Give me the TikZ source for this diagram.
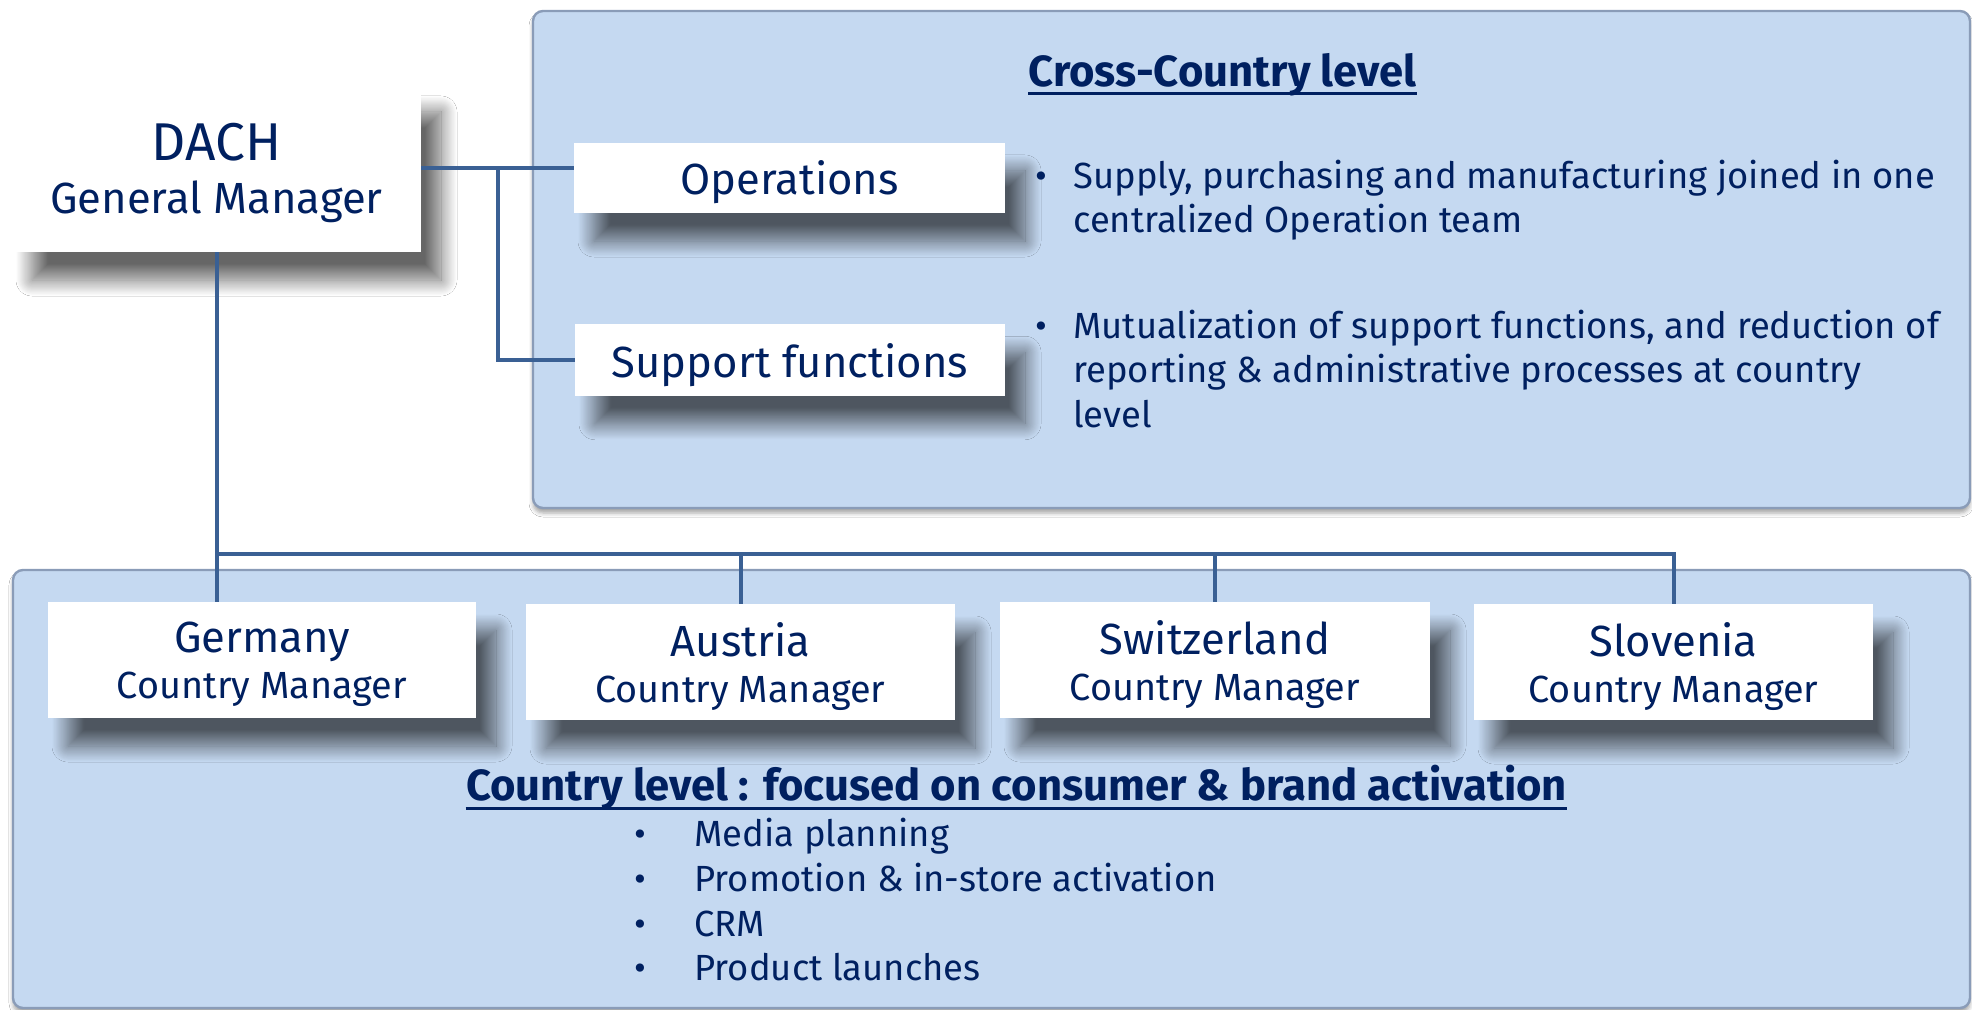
\documentclass[tikz,border=0pt]{standalone}
\usepackage{fontspec}
\setmainfont{Fira Sans}
\usetikzlibrary{shadows.blur}

\definecolor{navy}{RGB}{0,32,96}
\definecolor{panelblue}{RGB}{197,217,241}
\definecolor{paneledge}{RGB}{138,156,184}
\definecolor{linkblue}{RGB}{58,96,148}

\tikzset{
  panel/.style={fill=panelblue, draw=paneledge, line width=1.2pt, rounded corners=5pt,
    blur shadow={shadow xshift=0pt, shadow yshift=-2.5pt, shadow blur radius=2pt, shadow opacity=35}},
  card/.style={fill=white, inner sep=0pt, align=center, text=navy, text depth=0pt,
    blur shadow={shadow xshift=10pt, shadow yshift=-14pt, shadow blur radius=8pt,
      shadow blur steps=30, shadow opacity=60}},
  link/.style={draw=linkblue, line width=2pt},
  body/.style={text=navy, inner sep=0pt, font=\fontsize{18.2}{22}\selectfont},
  heading/.style={text=navy, inner sep=0pt, font=\bfseries\fontsize{21.8}{26}\selectfont},
  underl/.style={draw=navy, line width=1.6pt},
}

\begin{document}
\begin{tikzpicture}[x=0.5pt,y=-0.5pt]
\path[use as bounding box, fill=white] (0,0) rectangle (1972,1010);

% the two levels
\draw[panel] (533,11) rectangle (1970,508);
\draw[panel] (13,570) rectangle (1970,1008);

% boxes
\node[card, minimum width=204.5pt, minimum height=84pt, text depth=-8pt, font=\fontsize{21.8}{26.5}\selectfont] (dach) at (216.5,168) {{\fontsize{26.6}{26.5}\selectfont DACH}\\General Manager};
\node[card, minimum width=215.5pt, minimum height=35pt, font=\fontsize{21.8}{26}\selectfont] (operations) at (789.5,178) {Operations};
\node[card, minimum width=215pt, minimum height=35.75pt, font=\fontsize{21.8}{26}\selectfont] (support) at (790,360) {Support functions};

\node[card, minimum width=214pt, minimum height=58pt, font=\fontsize{21.8}{23}\selectfont] (germany) at (262,660) {Germany\\{\fontsize{18.9}{23}\selectfont Country Manager}};
\node[card, minimum width=214.5pt, minimum height=58pt, font=\fontsize{21.8}{23}\selectfont] (austria) at (740.5,662) {Austria\\{\fontsize{18.9}{23}\selectfont Country Manager}};
\node[card, minimum width=215pt, minimum height=58pt, font=\fontsize{21.8}{23}\selectfont] (switzerland) at (1215,660) {Switzerland\\{\fontsize{18.9}{23}\selectfont Country Manager}};
\node[card, minimum width=199.5pt, minimum height=58pt, font=\fontsize{21.8}{23}\selectfont] (slovenia) at (1673.5,662) {Slovenia\\{\fontsize{18.9}{23}\selectfont Country Manager}};

% reporting lines
\coordinate (bus) at (216.5,554);
\coordinate (fork) at (497.5,168);
\draw[link] (dach.south) -- (dach.south |- germany.north);
\draw[link] (bus) -| (slovenia.north);
\draw[link] (bus -| austria.north) -- (austria.north);
\draw[link] (bus -| switzerland.north) -- (switzerland.north);
\draw[link] (dach.east) -- (dach.east -| operations.west);
\draw[link] (fork) |- (support.west);

% cross-country level
\node[heading, anchor=base] (crosstitle) at (1222.5,86.7) {Cross-Country level};
\draw[underl] ([yshift=-3.6pt]crosstitle.base west) -- ([yshift=-3.6pt]crosstitle.base east);
\node[body, anchor=base] (opsdot) at (1041,188.3) {•};
\node[body, anchor=base west] (opsline1) at (1073,188.3) {Supply, purchasing and manufacturing joined in one};
\node[body, anchor=base west] (opsline2) at (1073,232.7) {centralized Operation team};
\node[body, anchor=base] (supdot) at (1041,339) {•};
\node[body, anchor=base west] (supline1) at (1073,339) {Mutualization of support functions, and reduction of};
\node[body, anchor=base west] (supline2) at (1073,383) {reporting \& administrative processes at country};
\node[body, anchor=base west] (supline3) at (1073,428) {level};

% country level
\node[heading, anchor=base] (countrytitle) at (1016.5,800.7) {Country level : focused on consumer \& brand activation};
\draw[underl] ([yshift=-3.8pt]countrytitle.base west) -- ([yshift=-3.8pt]countrytitle.base east);
\foreach \task [count=\i] in {Media planning, Promotion \& in-store activation, CRM, Product launches} {
  \node[body, anchor=base] (dot\i) at (640.5,{846.7+(\i-1)*44.7}) {•};
  \node[body, anchor=base west] (task\i) at (694,{846.7+(\i-1)*44.7}) {\task};
}
\end{tikzpicture}
\end{document}
